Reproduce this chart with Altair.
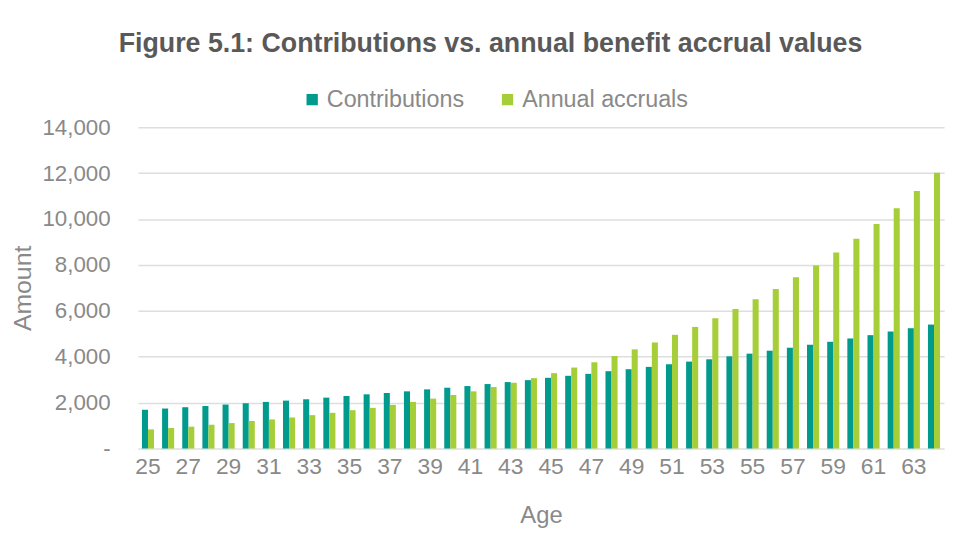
import altair as alt
import pandas as pd

ages = list(range(25, 65))
contributions = [1685, 1743, 1800, 1858, 1916, 1973, 2031, 2088, 2146, 2218,
                 2290, 2362, 2420, 2492, 2578, 2650, 2722, 2809, 2895, 2981,
                 3082, 3169, 3255, 3370, 3457, 3558, 3673, 3788, 3889, 4018,
                 4134, 4263, 4393, 4523, 4652, 4796, 4940, 5099, 5243, 5401]
accruals = [835, 893, 951, 1037, 1109, 1195, 1267, 1354, 1455, 1556,
            1671, 1772, 1901, 2031, 2175, 2333, 2492, 2679, 2866, 3068,
            3284, 3529, 3759, 4033, 4321, 4623, 4955, 5300, 5675, 6078,
            6510, 6957, 7461, 7979, 8541, 9146, 9780, 10471, 11220, 12012]
series = ["Contributions", "Annual accruals"]
colors = ["#009B8D", "#A6CE39"]
y_ticks = list(range(0, 14001, 2000))
x_label_ages = ages[::2]

rows = []
for a, c, v in zip(ages, contributions, accruals):
    rows.append({"Age": a, "Series": series[0], "Amount": c})
    rows.append({"Age": a, "Series": series[1], "Amount": v})
df = pd.DataFrame(rows)

FONT = "Liberation Sans"
GRAY = "#898989"

chart = alt.Chart(df).mark_bar().encode(
    x=alt.X("Age:O",
            scale=alt.Scale(paddingInner=0.4, paddingOuter=0.2),
            axis=alt.Axis(values=x_label_ages, labelAngle=0, title="Age",
                          labelFontSize=23, titleFontSize=24, labelColor=GRAY,
                          titleColor=GRAY, titleFontWeight="normal",
                          ticks=False, domain=False, labelPadding=7,
                          titlePadding=26, labelFont=FONT, titleFont=FONT)),
    xOffset=alt.XOffset("Series:N", sort=series, scale=alt.Scale(domain=series)),
    y=alt.Y("Amount:Q",
            scale=alt.Scale(domain=[0, 14000]),
            axis=alt.Axis(values=y_ticks,
                          labelExpr="datum.value == 0 ? '-' : format(datum.value, ',')",
                          title="Amount", labelFontSize=22.5, titleFontSize=25,
                          labelColor=GRAY, titleColor=GRAY, titleFontWeight="normal",
                          ticks=False, domain=False, labelPadding=28,
                          titlePadding=6, gridColor="#dedede", gridWidth=1.5,
                          labelFont=FONT, titleFont=FONT)),
    color=alt.Color("Series:N", sort=series,
                    scale=alt.Scale(domain=series, range=colors),
                    legend=alt.Legend(orient="none", legendX=164, legendY=-40,
                                      direction="horizontal", title=None,
                                      symbolType="square", symbolSize=130,
                                      symbolStrokeWidth=0, labelFontSize=23.5,
                                      labelColor=GRAY, labelFont=FONT,
                                      labelLimit=400, columnPadding=32,
                                      labelOffset=3)),
).properties(
    width=813,
    height=324,
    autosize=alt.AutoSizeParams(type="none"),
    padding={"left": 131, "top": 118, "right": 9, "bottom": 92},
    title=alt.Title("Figure 5.1: Contributions vs. annual benefit accrual values",
                    fontSize=27, font=FONT, fontWeight="bold", color="#595959",
                    anchor="middle", frame="bounds", offset=30, dx=13),
).configure_view(stroke=None)

chart.save("out.html", embed_options={"renderer": "svg", "actions": False})
